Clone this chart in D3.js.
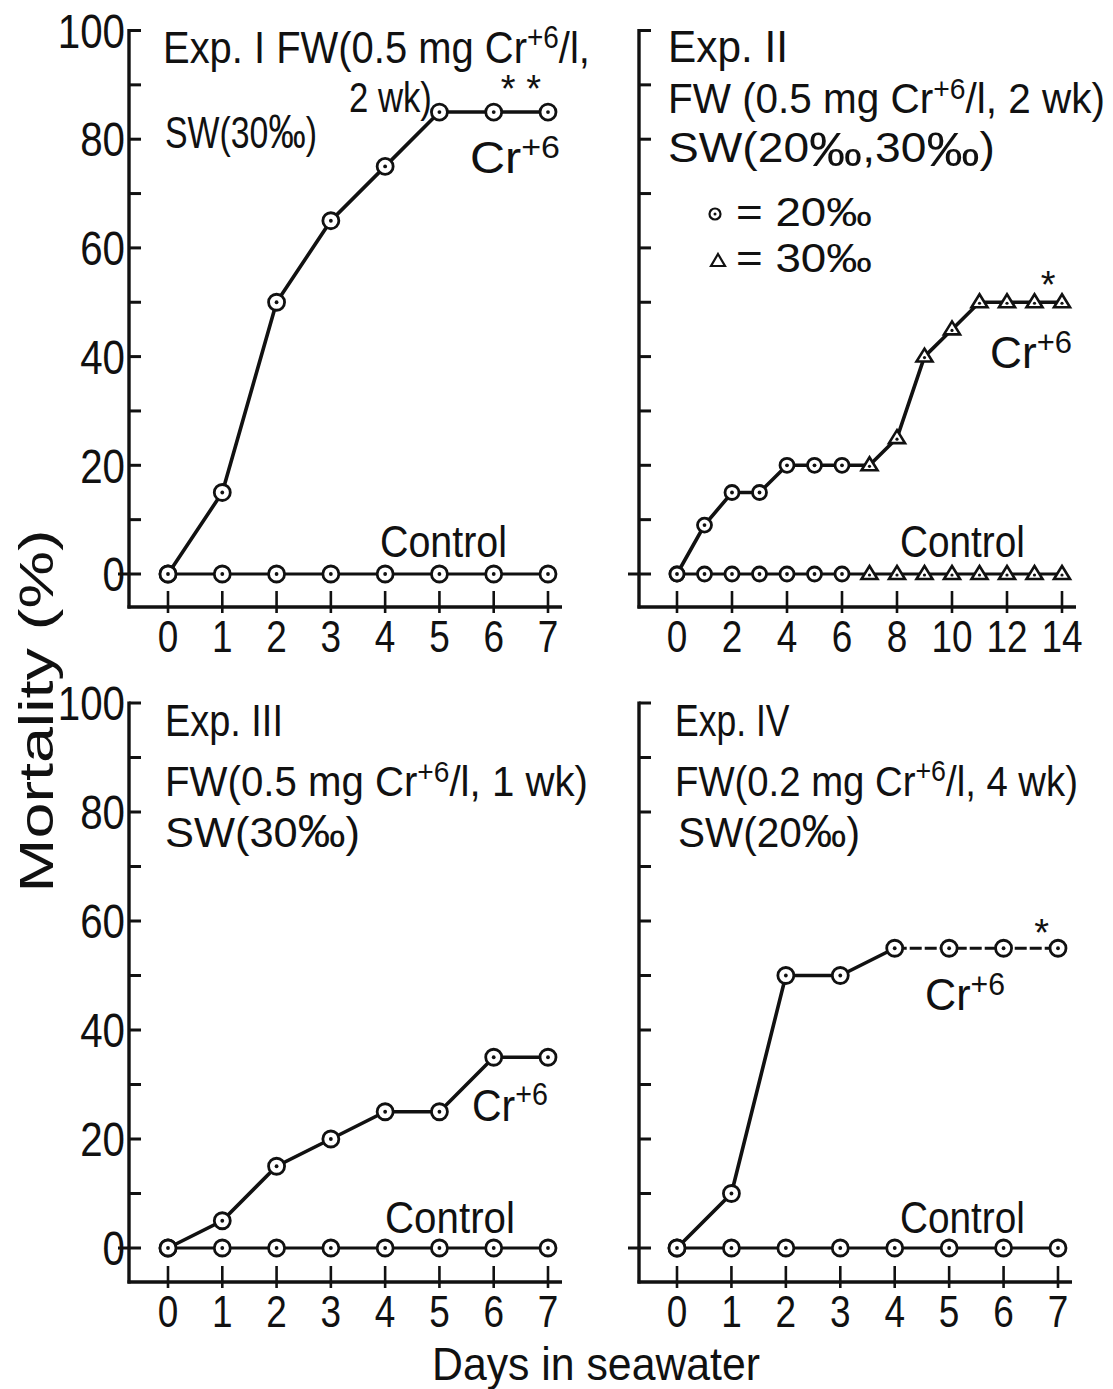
<!DOCTYPE html>
<html><head><meta charset="utf-8">
<script src="https://cdn.jsdelivr.net/npm/d3@7"></script>
<style>
body{margin:0;background:#fff;}
svg text{font-family:"Liberation Sans Narrow","Liberation Sans","DejaVu Sans Condensed",sans-serif;fill:#111;}
</style></head><body>
<svg id="c" width="1113" height="1389"></svg>
<script>
// ---- data ----
const days7 = [0,1,2,3,4,5,6,7];
const days14 = [0,1,2,3,4,5,6,7,8,9,10,11,12,13,14];
const exp1Cr   = [0,15,50,65,75,85,85,85];
const exp1Ctrl = [0,0,0,0,0,0,0,0];
const exp2Cr   = [0,9,15,15,20,20,20,20,25,40,45,50,50,50,50];
const exp2Ctrl = [0,0,0,0,0,0,0,0,0,0,0,0,0,0,0];
const exp2Salinity = ["20","20","20","20","20","20","20","30","30","30","30","30","30","30","30"];
const exp3Cr   = [0,5,15,20,25,25,35,35];
const exp3Ctrl = [0,0,0,0,0,0,0,0];
const exp4Cr   = [0,10,50,50,55,55,55,55];
const exp4Ctrl = [0,0,0,0,0,0,0,0];
const yTickLabels = [0,20,40,60,80,100];
const yMinorTicks = [0,10,20,30,40,50,60,70,80,90,100];
const xTicks7 = [0,1,2,3,4,5,6,7];
const xTicks14 = [0,2,4,6,8,10,12,14];

const svg = d3.select("#c");

// parts: [text, kind] kind 0 normal, 1 superscript, 2 enlarged per-mille
function addParts(sel, parts, big, drop){
  parts.forEach(p=>{
    const ts = sel.append("tspan").text(p[0]);
    if(p[1]===1) ts.attr("font-size","0.7em").attr("baseline-shift","50%");
    if(p[1]===2){
      ts.attr("font-size",(big||1.1)+"em");
      if(drop) ts.attr("baseline-shift",(-drop)+"px");
    }
  });
}
function scaleAbout(sel,x0,s){
  sel.attr("transform",`translate(${x0},0) scale(${s},1) translate(${-x0},0)`);
}
function label(x,y,parts,w,size,big,drop){
  const t = svg.append("text").attr("x",x).attr("y",y).attr("font-size",size||44);
  addParts(t,parts,big,drop);
  const bw = t.node().getBBox().width;
  scaleAbout(t,x,w/bw);
  return t;
}

function panel(cfg){
  const g = svg.append("g");
  const x = d3.scaleLinear().domain(cfg.xdom).range(cfg.xr);
  const y = d3.scaleLinear().domain([0,100]).range(cfg.yr);
  const axX = cfg.axisX, axY = cfg.axisY;
  g.append("line").attr("x1",axX).attr("x2",axX).attr("y1",y(100)-1.5).attr("y2",axY+1.5)
    .attr("stroke","#111").attr("stroke-width",3.4);
  g.append("line").attr("x1",axX-1.5).attr("x2",cfg.xEnd).attr("y1",axY).attr("y2",axY)
    .attr("stroke","#111").attr("stroke-width",3.4);
  g.selectAll(".yt").data(yMinorTicks).join("line")
    .attr("x1",d=> d===0 ? axX-11 : axX).attr("x2",axX+12)
    .attr("y1",d=>y(d)).attr("y2",d=>y(d)).attr("stroke","#111").attr("stroke-width",3);
  if(cfg.yLabels){
    g.selectAll(".yl").data(yTickLabels).join("text")
      .attr("x",axX-4).attr("y",d=>y(d)).attr("dy","0.36em")
      .attr("text-anchor","end").attr("font-size",48).text(d=>d)
      .each(function(){ scaleAbout(d3.select(this),axX-4,0.84); });
  }
  g.selectAll(".xt").data(cfg.xticks).join("line")
    .attr("x1",d=>x(d)).attr("x2",d=>x(d)).attr("y1",axY+6).attr("y2",axY-16)
    .attr("stroke","#111").attr("stroke-width",2.6);
  g.selectAll(".xl").data(cfg.xticks).join("text")
    .attr("x",d=>x(d)).attr("y",axY+45).attr("text-anchor","middle")
    .attr("font-size",44).text(d=>d)
    .each(function(d){ scaleAbout(d3.select(this),x(d),0.84); });

  const line = d3.line().x((d,i)=>x(cfg.days[i])).y(d=>y(d));
  g.append("path").attr("d",line(cfg.ctrl)).attr("fill","none").attr("stroke","#111").attr("stroke-width",2.8);
  if(cfg.dashFrom!=null){
    const solid = cfg.cr.slice(0,cfg.dashFrom+1);
    const dl = d3.line().x((d,i)=>x(cfg.days[i+cfg.dashFrom])).y(d=>y(d));
    g.append("path").attr("d",line(solid)).attr("fill","none").attr("stroke","#111").attr("stroke-width",3.6);
    g.append("path").attr("d",dl(cfg.cr.slice(cfg.dashFrom))).attr("fill","none").attr("stroke","#111")
      .attr("stroke-width",3).attr("stroke-dasharray","12,3");
  } else {
    g.append("path").attr("d",line(cfg.cr)).attr("fill","none").attr("stroke","#111").attr("stroke-width",3.6);
  }
  function markers(vals){
    vals.forEach((v,i)=>{
      const cx = x(cfg.days[i]), cy = y(v);
      const tri = cfg.shapes && cfg.shapes[i]==="30";
      if(tri){
        const s=8;
        g.append("path").attr("d",`M${cx},${cy-s}L${cx+s},${cy+s*0.62}L${cx-s},${cy+s*0.62}Z`)
          .attr("fill","#fff").attr("stroke","#111").attr("stroke-width",2.6);
        g.append("circle").attr("cx",cx).attr("cy",cy+1).attr("r",1.6).attr("fill","#111");
      } else {
        g.append("circle").attr("cx",cx).attr("cy",cy).attr("r",cfg.r||8)
          .attr("fill","#fff").attr("stroke","#111").attr("stroke-width",2.8);
        g.append("circle").attr("cx",cx).attr("cy",cy).attr("r",1.9).attr("fill","#111");
      }
    });
  }
  markers(cfg.ctrl);
  markers(cfg.cr);
  return {g,x,y};
}

const p1 = panel({xdom:[0,7],xr:[168,548],yr:[574,30.5],axisX:129,axisY:607,xEnd:562,
  xticks:xTicks7,yLabels:true,days:days7,cr:exp1Cr,ctrl:exp1Ctrl});
const p2 = panel({xdom:[0,14],xr:[677,1062],yr:[574,30.5],axisX:639,axisY:607,xEnd:1076,
  xticks:xTicks14,yLabels:false,days:days14,cr:exp2Cr,ctrl:exp2Ctrl,shapes:exp2Salinity,r:7});
const p3 = panel({xdom:[0,7],xr:[168,548],yr:[1248,703],axisX:129,axisY:1282,xEnd:562,
  xticks:xTicks7,yLabels:true,days:days7,cr:exp3Cr,ctrl:exp3Ctrl});
const p4 = panel({xdom:[0,7],xr:[677,1058],yr:[1248,703],axisX:639,axisY:1282,xEnd:1072,
  xticks:xTicks7,yLabels:false,days:days7,cr:exp4Cr,ctrl:exp4Ctrl,dashFrom:4});

// Panel I
label(163,63,[["Exp. I  FW(0.5 mg Cr",0],["+6",1],["/l,",0]],427,44);
label(349,112,[["2 wk)",0]],83,42);
label(165,148,[["SW(30",0],["‰",2],[")",0]],152,44,1.1);
label(470,173,[["Cr",0],["+6",1]],90);
label(380,557,[["Control",0]],127);
svg.append("text").attr("x",p1.x(6.5)).attr("y",p1.y(85)-10).attr("text-anchor","middle").attr("font-size",38).text("* *");
// Panel II
label(668,62,[["Exp. II",0]],120,44);
label(668,113,[["FW (0.5 mg Cr",0],["+6",1],["/l, 2 wk)",0]],437,42);
label(668,162,[["SW(20",0],["‰",2],[",30",0],["‰",2],[")",0]],327,42,1.15,4);
svg.append("circle").attr("cx",715).attr("cy",214).attr("r",5.5).attr("fill","#fff").attr("stroke","#111").attr("stroke-width",2.2);
svg.append("circle").attr("cx",715).attr("cy",214).attr("r",1.5).attr("fill","#111");
svg.append("path").attr("d","M718,254L725,266L711,266Z").attr("fill","#fff").attr("stroke","#111").attr("stroke-width",2.2);
label(736,226,[["= 20",0],["‰",2]],136,40,1.0);
label(736,272,[["= 30",0],["‰",2]],136,40,1.0);
label(990,368,[["Cr",0],["+6",1]],82);
label(900,557,[["Control",0]],125);
svg.append("text").attr("x",p2.x(13.5)).attr("y",p2.y(50)-4).attr("text-anchor","middle").attr("font-size",38).text("*");
// Panel III
label(165,736,[["Exp. III",0]],118,44);
label(165,796,[["FW(0.5 mg Cr",0],["+6",1],["/l, 1 wk)",0]],423,42);
label(165,847,[["SW(30",0],["‰",2],[")",0]],195,42,1.1);
label(472,1121,[["Cr",0],["+6",1]],76);
label(385,1233,[["Control",0]],130);
// Panel IV
label(675,736,[["Exp. IV",0]],115,44);
label(675,796,[["FW(0.2 mg Cr",0],["+6",1],["/l, 4 wk)",0]],403,42);
label(678,847,[["SW(20",0],["‰",2],[")",0]],182,42,1.1);
label(925,1010,[["Cr",0],["+6",1]],80);
label(900,1233,[["Control",0]],125);
svg.append("text").attr("x",p4.x(6.7)).attr("y",p4.y(55)-2).attr("text-anchor","middle").attr("font-size",38).text("*");

// axis titles
const yt = svg.append("text").attr("text-anchor","middle").attr("font-size",48).text("Mortality (%)");
const ytw = yt.node().getBBox().width;
yt.attr("transform",`translate(53,711) rotate(-90) scale(${363/ytw},1)`);
const xt = svg.append("text").attr("x",596).attr("y",1380).attr("text-anchor","middle").attr("font-size",46).text("Days in  seawater");
const xtw = xt.node().getBBox().width;
scaleAbout(xt,596,328/xtw);
</script></body></html>
